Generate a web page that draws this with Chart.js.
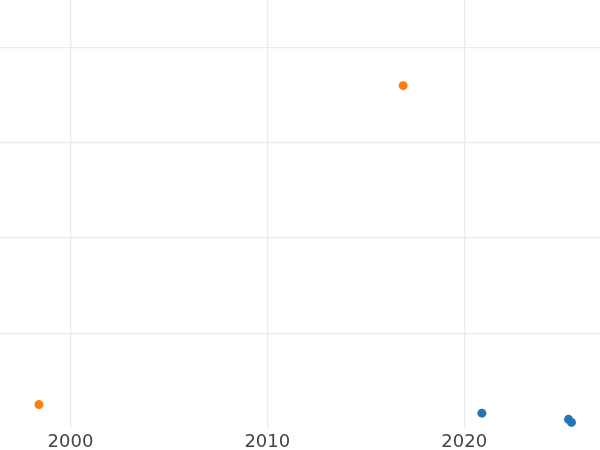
<!DOCTYPE html>
<html>
<head>
<meta charset="utf-8">
<script src="https://cdn.jsdelivr.net/npm/chart.js@4"></script>
<style>
  html, body { margin: 0; padding: 0; background: #fff; }
  #wrap { width: 600px; height: 450px; }
</style>
</head>
<body>
<div id="wrap"><canvas id="scatterChart"></canvas></div>
<script>
// data
var orangeYears = [1998.4, 2016.9];
var orangeValues = [0.25, 3.6];
var blueYears = [2020.9, 2025.3, 2025.45];
var blueValues = [0.16, 0.095, 0.063];
var xTicks = [2000, 2010, 2020];
var yGrid = [1, 2, 3, 4]; // y labels are not shown, only the grid

function toPoints(xs, ys) {
  return xs.map(function (x, i) { return { x: x, y: ys[i] }; });
}

var data = {
  datasets: [
    {
      label: 'orange',
      data: toPoints(orangeYears, orangeValues),
      backgroundColor: '#ff7f0e',
      borderWidth: 0,
      pointRadius: 4.5
    },
    {
      label: 'blue',
      data: toPoints(blueYears, blueValues),
      backgroundColor: '#1f77b4',
      borderWidth: 0,
      pointRadius: 4.5
    }
  ]
};

var options = {
  responsive: true,
  maintainAspectRatio: false,
  animation: false,
  layout: { padding: { left: 0, right: 0, top: 0, bottom: -6 }, autoPadding: false },
  plugins: { legend: { display: false }, tooltip: { enabled: false } },
  scales: {
    x: {
      type: 'linear',
      min: 1996.42,
      max: 2026.9,
      afterBuildTicks: function (scale) {
        scale.ticks = xTicks.map(function (v) { return { value: v }; });
      },
      grid: { color: '#ebebeb', lineWidth: 1.3, drawTicks: false },
      border: { display: false },
      ticks: {
        padding: 3,
        color: '#444',
        font: { family: 'DejaVu Sans', size: 18 },
        callback: function (v) { return String(v); }
      }
    },
    y: {
      min: 0,
      max: 4.5,
      afterBuildTicks: function (scale) {
        scale.ticks = yGrid.map(function (v) { return { value: v }; });
      },
      ticks: { display: false },
      grid: { color: '#ebebeb', lineWidth: 1.3, drawTicks: false },
      border: { display: false }
    }
  }
};

const ctx = document.getElementById('scatterChart').getContext('2d');
const chart = new Chart(ctx, { type: 'scatter', data: data, options: options });
</script>
</body>
</html>
